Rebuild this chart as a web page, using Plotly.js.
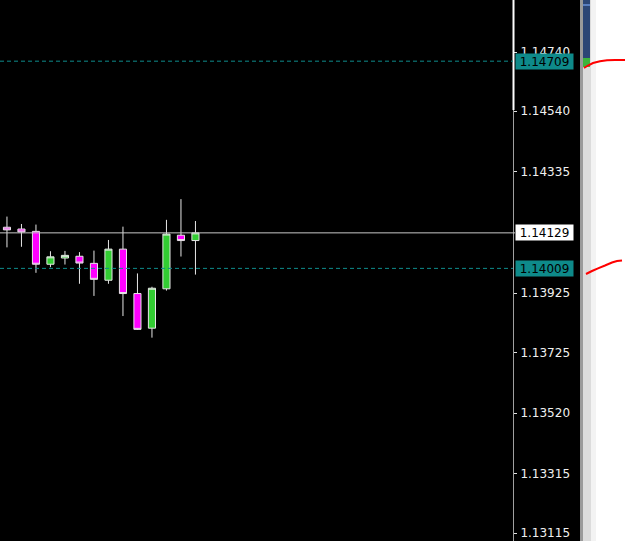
<!DOCTYPE html>
<html>
<head>
<meta charset="utf-8">
<script src="https://cdn.plot.ly/plotly-3.0.1.min.js"></script>
<style>html,body{margin:0;padding:0;background:#fff;}#chart{width:625px;height:541px;}</style>
</head>
<body>
<div id="chart"></div>
<script>
// ---- data ----
var barIndex = [0,1,2,3,4,5,6,7,8,9,10,11,12,13];
var openP  = [1.14148,1.14142,1.14134,1.14023,1.14044,1.14050,1.14026,1.13969,1.14074,1.13924,1.13807,1.13940,1.14121,1.14103];
var highP  = [1.14184,1.14159,1.14157,1.14067,1.14068,1.14064,1.14069,1.14105,1.14150,1.13992,1.13947,1.14173,1.14243,1.14169];
var lowP   = [1.14080,1.14082,1.13994,1.14013,1.14022,1.13957,1.13916,1.13957,1.13848,1.13801,1.13775,1.13934,1.14049,1.13988];
var closeP = [1.14139,1.14132,1.14023,1.14048,1.14053,1.14027,1.13972,1.14074,1.13924,1.13803,1.13942,1.14125,1.14103,1.14129];
var tickValues = [1.14740,1.14540,1.14335,1.13925,1.13725,1.13520,1.13315,1.13115];
var tickLabels = ["1.14740","1.14540","1.14335","1.13925","1.13725","1.13520","1.13315","1.13115"];
var dashedLevels = [1.14709, 1.14009];
var currentPrice = 1.14129;

// ---- helpers (pixel -> paper) ----
var W = 625, H = 541;
function px(x){ return x / W; }
function py(y){ return 1 - y / H; }
var plotRight = 513;

var trace = {
  type: 'candlestick',
  x: barIndex, open: openP, high: highP, low: lowP, close: closeP,
  increasing: {line: {color: '#e6e6e6', width: 1}, fillcolor: '#32cd32'},
  decreasing: {line: {color: '#e6e6e6', width: 1}, fillcolor: '#ff00ff'},
  whiskerwidth: 0,
  hoverinfo: 'none',
  showlegend: false
};

var shapes = [];
shapes.push({type:'rect', xref:'paper', yref:'paper', x0:0, x1:px(580), y0:0, y1:1, fillcolor:'#000', line:{width:0}, layer:'below'});
shapes.push({type:'rect', xref:'paper', yref:'paper', x0:px(580), x1:px(583), y0:0, y1:1, fillcolor:'#9a9a9a', line:{width:0}, layer:'below'});
shapes.push({type:'rect', xref:'paper', yref:'paper', x0:px(583), x1:px(591), y0:0, y1:1, fillcolor:'#dcdcdc', line:{width:0}, layer:'below'});
shapes.push({type:'rect', xref:'paper', yref:'paper', x0:px(591), x1:px(596), y0:0, y1:1, fillcolor:'#f3f3f3', line:{width:0}, layer:'below'});
shapes.push({type:'rect', xref:'paper', yref:'paper', x0:px(583), x1:px(590), y0:py(58), y1:1, fillcolor:'#2c4675', line:{width:0}, layer:'below'});
shapes.push({type:'rect', xref:'paper', yref:'paper', x0:px(583), x1:px(590), y0:py(6), y1:py(4), fillcolor:'#5a7fbf', line:{width:0}, layer:'below'});
shapes.push({type:'rect', xref:'paper', yref:'paper', x0:px(583), x1:px(590), y0:py(67), y1:py(58), fillcolor:'#3cb43c', line:{width:0}, layer:'below'});
shapes.push({type:'line', xref:'paper', yref:'paper', x0:px(513.5), x1:px(513.5), y0:py(110), y1:1, line:{color:'#ffffff', width:2}});
dashedLevels.forEach(function(v){
  shapes.push({type:'line', xref:'paper', yref:'y', x0:0, x1:px(plotRight), y0:v, y1:v, line:{color:'#0e8c8c', width:1, dash:'4px,3px'}});
});
shapes.push({type:'line', xref:'paper', yref:'y', x0:0, x1:px(plotRight+2), y0:currentPrice, y1:currentPrice, line:{color:'#c8c8c8', width:1}});
function path(pts){
  var s = 'M' + px(pts[0][0]) + ',' + py(pts[0][1]);
  for (var i = 1; i < pts.length; i++) s += ' L' + px(pts[i][0]) + ',' + py(pts[i][1]);
  return s;
}
shapes.push({type:'path', xref:'paper', yref:'paper', path: path([[584,68],[588,65.5],[593,63],[600,61.2],[607,60.3],[615,60],[625,60]]), line:{color:'#ff0000', width:2}});
shapes.push({type:'path', xref:'paper', yref:'paper', path: path([[586,274],[592,271],[598,268.3],[605,265.5],[612,262.5],[617,261],[622,260.5]]), line:{color:'#ff0000', width:2}});

var annotations = [];
function priceBox(v, bg){
  annotations.push({xref:'paper', yref:'y', x:px(515), xanchor:'left', y:v, yanchor:'middle',
    text: v.toFixed(5), showarrow:false, bgcolor:bg, borderpad:0, width:57, height:15, align:'center',
    font:{family:'DejaVu Sans', size:12, color:'#000'}});
}
priceBox(dashedLevels[0], '#0e8a8a');
priceBox(dashedLevels[1], '#0e8a8a');
priceBox(currentPrice, '#ffffff');

var layout = {
  width: W, height: H,
  margin: {l:0, r:0, t:0, b:0, pad:0},
  paper_bgcolor: '#ffffff',
  plot_bgcolor: '#000000',
  showlegend: false,
  boxgap: 0.3,
  xaxis: {domain:[0, plotRight / W], range:[-0.48, 34.9], showgrid:false, zeroline:false, showticklabels:false, ticks:'', showline:false, rangeslider:{visible:false}, fixedrange:true},
  yaxis: {side:'right', range:[1.13088, 1.149157], tickmode:'array', tickvals:tickValues, ticktext:tickLabels,
    showgrid:false, zeroline:false, showline:true, linecolor:'#a0a0a0', linewidth:1,
    ticks:'outside', ticklen:3, tickcolor:'#e0e0e0', tickwidth:1, ticklabelstandoff:1,
    tickfont:{family:'DejaVu Sans', size:12, color:'#f0f0f0'}, fixedrange:true},
  shapes: shapes,
  annotations: annotations
};

Plotly.newPlot('chart', [trace], layout, {displayModeBar:false, staticPlot:true});
</script>
</body>
</html>
